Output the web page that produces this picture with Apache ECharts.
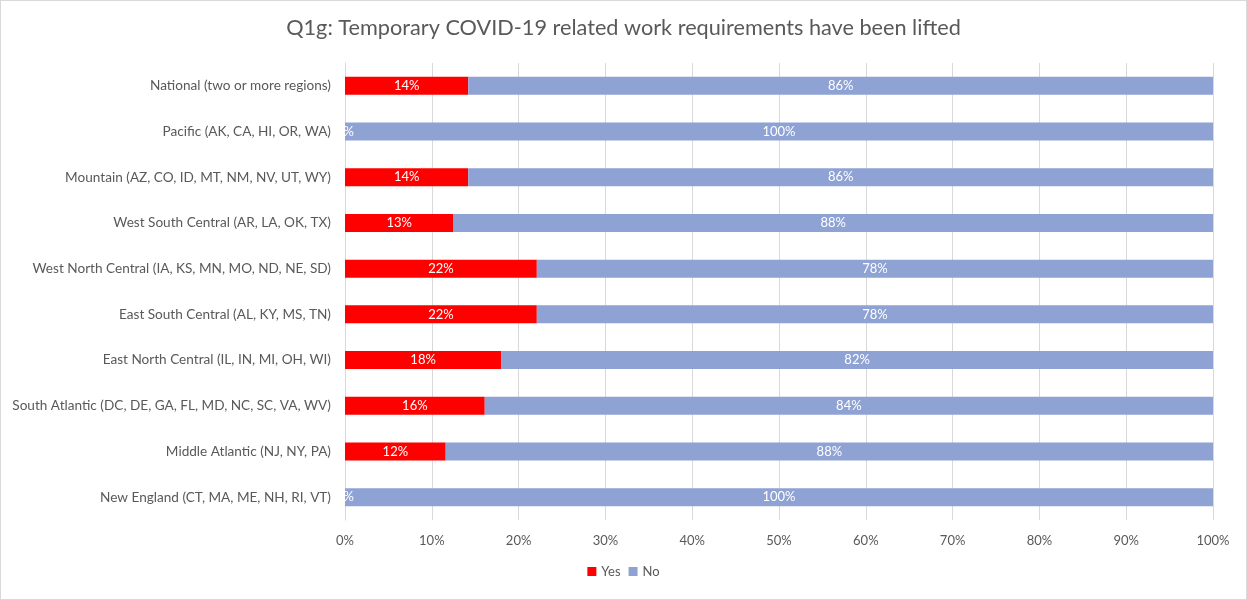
<!DOCTYPE html>
<html><head><meta charset="utf-8">
<script src="https://cdn.jsdelivr.net/npm/echarts@6/dist/echarts.min.js"></script>
<style>html,body{margin:0;padding:0;background:#fff}#c{width:1247px;height:600px;box-sizing:border-box;border:1px solid #d9d9d9}</style>
</head><body><div id="c"></div>
<script>
var title = 'Q1g: Temporary COVID-19 related work requirements have been lifted';
var categories = [
  'National (two or more regions)',
  'Pacific (AK, CA, HI, OR, WA)',
  'Mountain (AZ, CO, ID, MT, NM, NV, UT, WY)',
  'West South Central (AR, LA, OK, TX)',
  'West North Central (IA, KS, MN, MO, ND, NE, SD)',
  'East South Central (AL, KY, MS, TN)',
  'East North Central (IL, IN, MI, OH, WI)',
  'South Atlantic (DC, DE, GA, FL, MD, NC, SC, VA, WV)',
  'Middle Atlantic (NJ, NY, PA)',
  'New England (CT, MA, ME, NH, RI, VT)'
];
var yesValues = [14.2, 0, 14.2, 12.5, 22.1, 22.1, 18.0, 16.1, 11.6, 0];
var noValues  = [85.8, 100, 85.8, 87.5, 77.9, 77.9, 82.0, 83.9, 88.4, 100];
var xTicks = [0, 10, 20, 30, 40, 50, 60, 70, 80, 90, 100];

var font = 'Lato, "Liberation Sans", sans-serif';
var chart = echarts.init(document.getElementById('c'));
function lbl(p){ return Math.round(p.value) + '%'; }
chart.setOption({
  animation: false,
  textStyle: {fontFamily: font},
  title: {text: title, left: 'center', top: 11,
    textStyle: {fontFamily: font, fontSize: 21.7, fontWeight: 'normal', color: '#595959'}},
  legend: {bottom: 16, left: 'center', itemWidth: 9, itemHeight: 9, itemGap: 8,
    icon: 'rect', textStyle: {fontFamily: font, fontSize: 13, color: '#595959'},
    data: ['Yes', 'No']},
  grid: {left: 344, right: 33, top: 62, bottom: 79},
  xAxis: {type: 'value', min: xTicks[0], max: xTicks[xTicks.length - 1], interval: 10,
    axisLabel: {formatter: function(v){return v + '%';}, color: '#595959', fontSize: 13, margin: 14, fontFamily: font},
    splitLine: {show: true, lineStyle: {color: '#d9d9d9', width: 1}},
    axisLine: {show: false}, axisTick: {show: false}},
  yAxis: {type: 'category', data: categories, inverse: true,
    axisLabel: {color: '#595959', fontSize: 13.6, margin: 14, fontFamily: font},
    axisLine: {show: true, lineStyle: {color: '#d9d9d9'}}, axisTick: {show: false}},
  series: [
    {name: 'Yes', type: 'bar', stack: 't', data: yesValues, barWidth: 18,
      itemStyle: {color: '#ff0000'},
      label: {show: true, position: 'inside', color: '#fff', fontSize: 13, formatter: lbl, fontFamily: font}},
    {name: 'No', type: 'bar', stack: 't', data: noValues, barWidth: 18,
      itemStyle: {color: '#8fa2d4'},
      label: {show: true, position: 'inside', color: '#fff', fontSize: 13, formatter: lbl, fontFamily: font}}
  ]
});
</script></body></html>
